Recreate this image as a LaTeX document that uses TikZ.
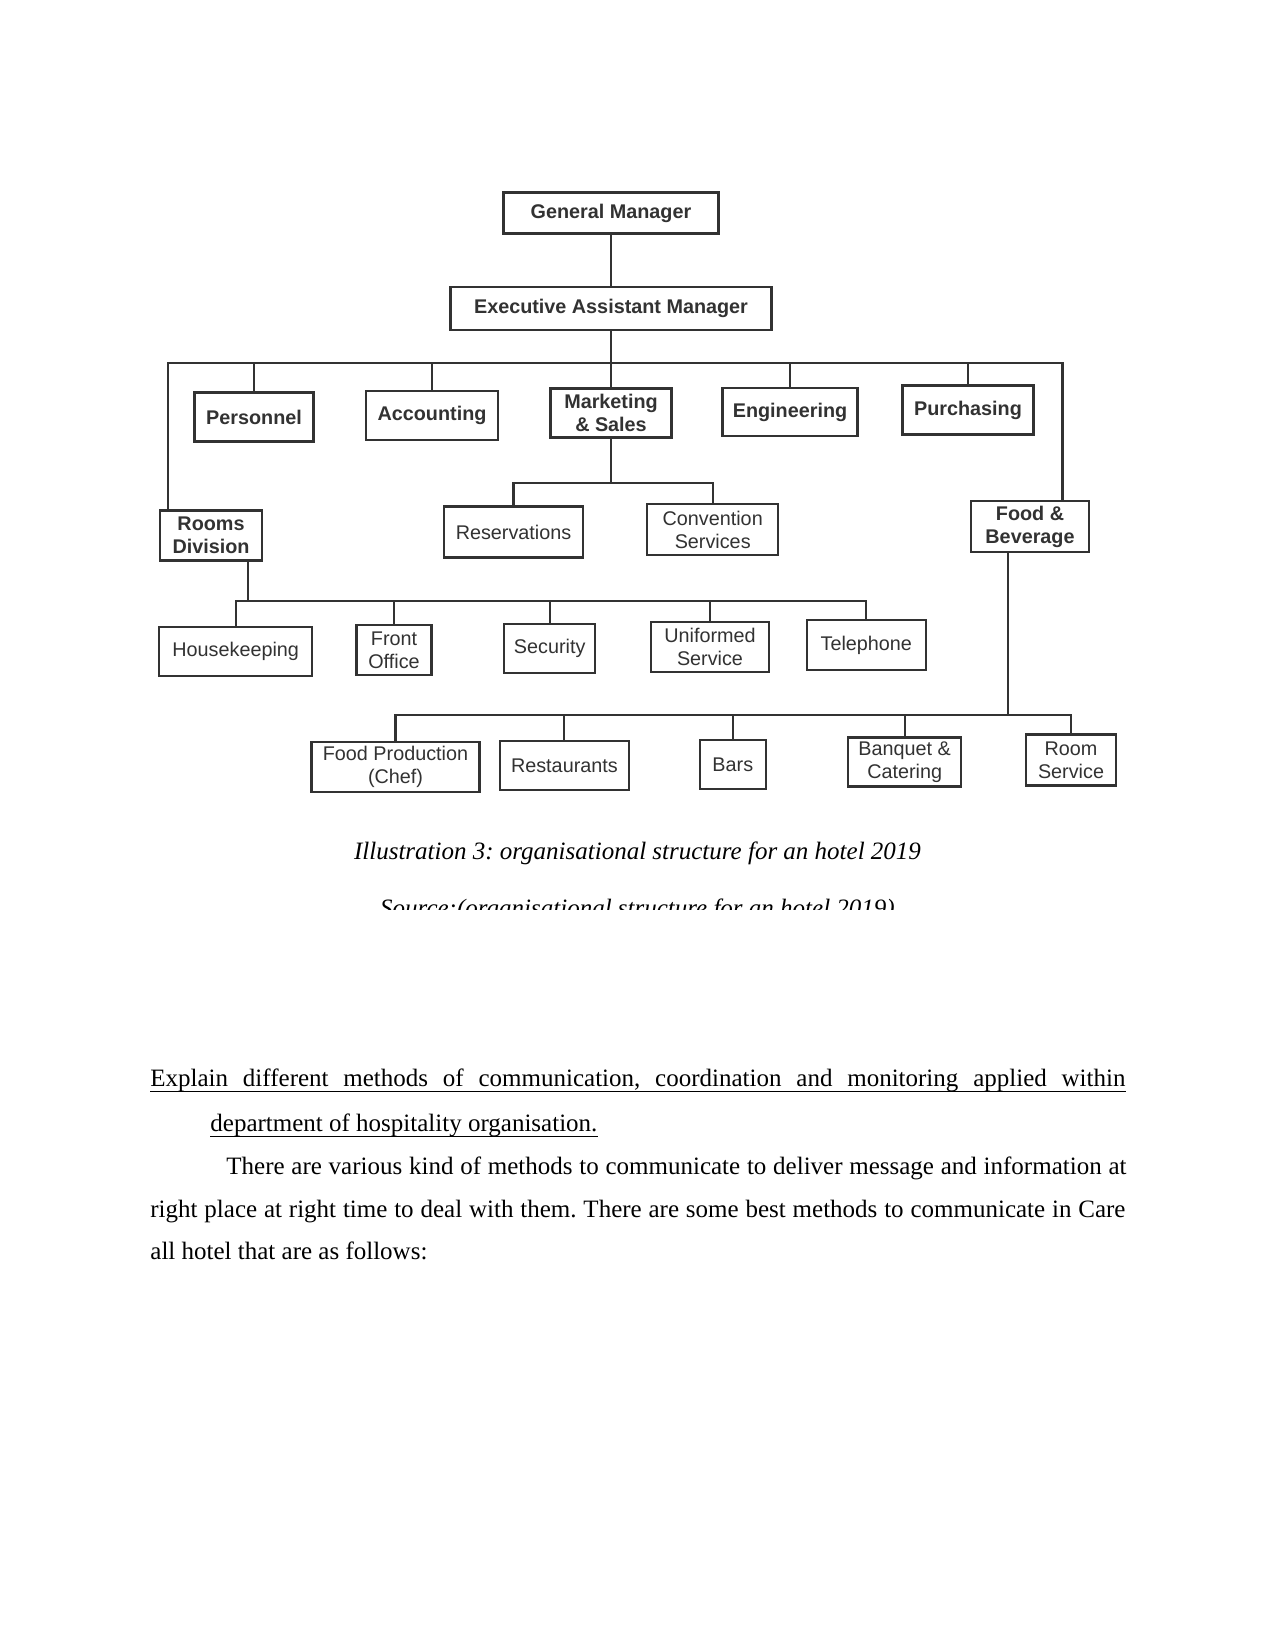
\documentclass[tikz,border=0pt]{standalone}
\usepackage{fontspec}
\setmainfont{Liberation Serif}
\newfontfamily\chartfont{Liberation Sans}
\usetikzlibrary{positioning}
\definecolor{inkgray}{RGB}{50,50,50}
\frenchspacing

\tikzset{
  dept/.style 2 args={draw=inkgray, line width=1pt, text=inkgray, inner sep=0pt,
    align=center, minimum width=#1*0.48pt, minimum height=#2*0.48pt,
    font=\chartfont\fontsize{9.5}{11}\selectfont},
  chief/.style={font=\chartfont\bfseries\fontsize{9.5}{11}\selectfont},
  link/.style={draw=inkgray, line width=1pt},
  prose/.style={anchor=base west, inner sep=0pt, font=\fontsize{12}{14}\selectfont},
  uline/.style={line width=0.6pt},
}

\begin{document}
\begin{tikzpicture}[x=0.48pt, y=-0.48pt]
  \fill[white] (0,0) rectangle (1275,1650);
  \useasboundingbox (0,0) rectangle (1275,1650);

  % top of the chart
  \node[dept={215}{41}, chief] (gm) at (611,213) {General Manager};
  \node[dept={321}{43}, chief] (eam) at (611,308.5) {Executive Assistant Manager};

  % departments
  \node[dept={119}{49}, chief] (pers) at (254,417) {Personnel};
  \node[dept={132}{49}, chief] (acct) at (432,415.5) {Accounting};
  \node[dept={121}{49}, chief] (mkt) at (611,413) {Marketing\\\& Sales};
  \node[dept={135}{48}, chief] (eng) at (790,412) {Engineering};
  \node[dept={131}{49}, chief] (purch) at (968,410) {Purchasing};
  \node[dept={102}{50}, chief] (rooms) at (211,535.5) {Rooms\\Division};
  \node[dept={118}{51}, chief] (fb) at (1030,526.5) {Food \&\\Beverage};

  % marketing units
  \node[dept={139}{51}] (resv) at (513.5,532) {Reservations};
  \node[dept={131}{51}] (conv) at (712.7,529.7) {Convention\\Services};

  % rooms units
  \node[dept={153}{49}] (house) at (235.7,651.7) {Housekeeping};
  \node[dept={75}{50}] (front) at (394,650) {Front\\Office};
  \node[dept={91}{49}] (sec) at (549.7,648.5) {Security};
  \node[dept={118}{50}] (unif) at (710,647) {Uniformed\\Service};
  \node[dept={119}{50}] (tel) at (866.3,645) {Telephone};

  % food and beverage units
  \node[dept={168}{50}] (chef) at (395.5,767) {Food Production\\(Chef)};
  \node[dept={129}{49}] (rest) at (564.4,765.3) {Restaurants};
  \node[dept={66}{49}] (bars) at (732.8,764.3) {Bars};
  \node[dept={113}{49}] (banq) at (904.7,762) {Banquet \&\\Catering};
  \node[dept={90}{51}] (rsvc) at (1071,760) {Room\\Service};

  % connectors
  \coordinate (busL) at (168,363);
  \coordinate (busR) at (1062.5,363);
  \draw[link] (gm) -- (eam);
  \draw[link] (eam) -- (mkt);
  \draw[link] (rooms.north -| busL) -- (busL) -- (busR) -- (fb.north -| busR);
  \foreach \n in {pers,acct,eng,purch}
    \draw[link] (\n.north) -- (\n.north |- busL);

  \coordinate (mbus) at (0,483);
  \draw[link] (mkt.south) -- (mkt.south |- mbus);
  \draw[link] (resv.north) -- (resv.north |- mbus) -- (conv.north |- mbus) -- (conv.north);

  \coordinate (rdrop) at (248,600.7);
  \draw[link] (rooms.south -| rdrop) -- (rdrop);
  \draw[link] (house.north) -- (house.north |- rdrop) -- (tel.north |- rdrop) -- (tel.north);
  \foreach \n in {front,sec,unif}
    \draw[link] (\n.north) -- (\n.north |- rdrop);

  \coordinate (fdrop) at (1007.8,715);
  \draw[link] (fb.south -| fdrop) -- (fdrop);
  \draw[link] (chef.north) -- (chef.north |- fdrop) -- (rsvc.north |- fdrop) -- (rsvc.north);
  \foreach \n in {rest,bars,banq}
    \draw[link] (\n.north) -- (\n.north |- fdrop);

  % caption
  \node[anchor=base, inner sep=0pt, font=\itshape\fontsize{12}{14}\selectfont] (cap) at (637.5,859)
    {Illustration 3: organisational structure for an hotel 2019};
  \begin{scope}
    \clip (0,0) rectangle (1275,909);
    \node[anchor=base, inner sep=0pt, font=\itshape\fontsize{12}{14}\selectfont] (src) at (637.5,916)
      {Source:(organisational structure for an hotel 2019)};
  \end{scope}

  % question, underlined
  \node[prose] (qhead) at (150,1086)
    {\makebox[468pt][s]{Explain different methods of communication, coordination and monitoring applied within}};
  \node[prose] (qtail) at (210,1131) {department of hospitality organisation.};
  \draw[uline] ([yshift=-2.6pt]qhead.base west) -- ([yshift=-2.6pt]qhead.base east);
  \draw[uline] ([yshift=-2.6pt]qtail.base west) -- ([yshift=-2.6pt]qtail.base east);

  % answer text
  \node[prose] (body1) at (226,1174)
    {\makebox[432pt][s]{There are various kind of methods to communicate to deliver message and information at}};
  \node[prose] (body2) at (150,1217)
    {\makebox[468pt][s]{right place at right time to deal with them. There are some best methods to communicate in Care}};
  \node[prose] (body3) at (150,1259) {all hotel that are as follows:};
\end{tikzpicture}
\end{document}
